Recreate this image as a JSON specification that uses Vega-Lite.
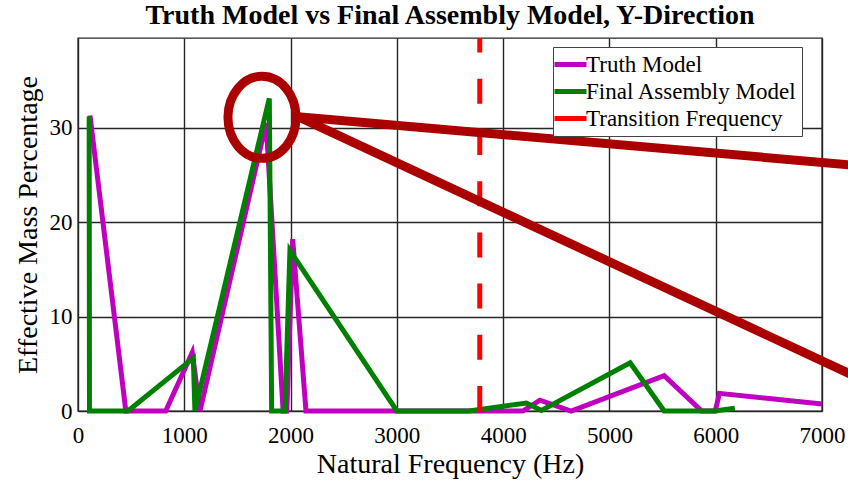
{
  "$schema": "https://vega.github.io/schema/vega-lite/v6.json",
  "autosize": {"type": "none"},
  "padding": {"left": 78, "top": 38, "right": 26, "bottom": 71},
  "width": 744,
  "height": 373,
  "background": "white",
  "title": {
    "text": "Truth Model vs Final Assembly Model, Y-Direction",
    "font": "Liberation Serif",
    "fontSize": 28,
    "fontWeight": "bold",
    "color": "black",
    "anchor": "middle",
    "offset": 6
  },
  "config": {
    "view": {"stroke": "#262626", "strokeWidth": 1.4},
    "axis": {
      "labelFont": "Liberation Serif",
      "titleFont": "Liberation Serif",
      "labelColor": "black",
      "titleColor": "black",
      "titleFontWeight": "normal",
      "gridColor": "#262626",
      "gridWidth": 1.4,
      "gridOpacity": 1,
      "domain": false,
      "ticks": false
    }
  },
  "datasets": {
    "series": [
      {"series": "Truth Model", "f": 113, "v": 31.3},
      {"series": "Truth Model", "f": 450, "v": 0},
      {"series": "Truth Model", "f": 825, "v": 0},
      {"series": "Truth Model", "f": 1075, "v": 6.2},
      {"series": "Truth Model", "f": 1148, "v": 0},
      {"series": "Truth Model", "f": 1770, "v": 30.5},
      {"series": "Truth Model", "f": 1930, "v": 0},
      {"series": "Truth Model", "f": 1965, "v": 0},
      {"series": "Truth Model", "f": 2020, "v": 18.2},
      {"series": "Truth Model", "f": 2145, "v": 0},
      {"series": "Truth Model", "f": 4185, "v": 0},
      {"series": "Truth Model", "f": 4346, "v": 1.15},
      {"series": "Truth Model", "f": 4640, "v": 0},
      {"series": "Truth Model", "f": 5515, "v": 3.75},
      {"series": "Truth Model", "f": 5868, "v": 0},
      {"series": "Truth Model", "f": 5995, "v": 0},
      {"series": "Truth Model", "f": 6035, "v": 1.87},
      {"series": "Truth Model", "f": 7000, "v": 0.74},
      {"series": "Final Assembly Model", "f": 105, "v": 31.2},
      {"series": "Final Assembly Model", "f": 108, "v": 0},
      {"series": "Final Assembly Model", "f": 470, "v": 0},
      {"series": "Final Assembly Model", "f": 1085, "v": 5.6},
      {"series": "Final Assembly Model", "f": 1100, "v": 0},
      {"series": "Final Assembly Model", "f": 1800, "v": 33.1},
      {"series": "Final Assembly Model", "f": 1822, "v": 0},
      {"series": "Final Assembly Model", "f": 1947, "v": 0},
      {"series": "Final Assembly Model", "f": 1994, "v": 17.0},
      {"series": "Final Assembly Model", "f": 3000, "v": 0},
      {"series": "Final Assembly Model", "f": 3680, "v": 0},
      {"series": "Final Assembly Model", "f": 4220, "v": 0.85},
      {"series": "Final Assembly Model", "f": 4360, "v": 0.05},
      {"series": "Final Assembly Model", "f": 5195, "v": 5.1},
      {"series": "Final Assembly Model", "f": 5515, "v": 0},
      {"series": "Final Assembly Model", "f": 5990, "v": 0},
      {"series": "Final Assembly Model", "f": 6180, "v": 0.3}
    ],
    "transition": [
      {"series": "Transition Frequency", "f": 3780, "v": 0, "v2": 39.5}
    ],
    "ellipse": [
      {"f": 1731, "v": 31.1}
    ],
    "pointers": [
      {"seg": "a", "f": 2070, "v": 31.17},
      {"seg": "a", "f": 7300, "v": 26.03},
      {"seg": "b", "f": 2070, "v": 31.17},
      {"seg": "b", "f": 7300, "v": 3.74}
    ]
  },
  "layer": [
    {
      "data": {"name": "series"},
      "transform": [{"filter": "datum.series === 'Truth Model'"}],
      "mark": {"type": "line", "strokeWidth": 5},
      "encoding": {
        "x": {
          "field": "f", "type": "quantitative",
          "scale": {"domain": [0, 7000], "nice": false, "zero": false},
          "axis": {
            "title": "Natural Frequency (Hz)",
            "values": [0, 1000, 2000, 3000, 4000, 5000, 6000, 7000],
            "format": "d",
            "labelFontSize": 23,
            "titleFontSize": 28,
            "labelPadding": 13,
            "titlePadding": 3,
            "labelFlush": false
          }
        },
        "y": {
          "field": "v", "type": "quantitative",
          "scale": {"domain": [0, 39.5], "nice": false},
          "axis": {
            "title": "Effective Mass Percentage",
            "values": [0, 10, 20, 30],
            "labelFontSize": 23,
            "titleFontSize": 28,
            "labelPadding": 6,
            "titlePadding": 7,
            "labelFlush": false
          }
        },
        "color": {
          "field": "series", "type": "nominal",
          "scale": {
            "domain": ["Truth Model", "Final Assembly Model", "Transition Frequency"],
            "range": ["#bf00bf", "#008000", "#ff0000"]
          },
          "legend": {
            "title": null,
            "orient": "none",
            "legendX": 475,
            "legendY": 9,
            "fillColor": "white",
            "strokeColor": "#444444",
            "padding": 5,
            "labelFont": "Liberation Serif",
            "labelFontSize": 23,
            "labelColor": "black",
            "labelLimit": 0,
            "labelOffset": 3,
            "symbolType": "M-1.6,0H1.6",
            "symbolSize": 400,
            "symbolStrokeWidth": 5,
            "rowPadding": 2
          }
        }
      }
    },
    {
      "data": {"name": "series"},
      "transform": [{"filter": "datum.series === 'Final Assembly Model'"}],
      "mark": {"type": "line", "strokeWidth": 5},
      "encoding": {
        "x": {"field": "f", "type": "quantitative"},
        "y": {"field": "v", "type": "quantitative"},
        "color": {"field": "series", "type": "nominal"}
      }
    },
    {
      "data": {"name": "transition"},
      "mark": {"type": "rule", "strokeWidth": 5, "strokeDash": [25, 26.2], "strokeCap": "butt"},
      "encoding": {
        "x": {"field": "f", "type": "quantitative"},
        "y": {"field": "v", "type": "quantitative"},
        "y2": {"field": "v2"},
        "color": {"field": "series", "type": "nominal"}
      }
    },
    {
      "data": {"name": "pointers"},
      "mark": {"type": "line", "color": "#aa0000", "strokeWidth": 9, "strokeCap": "butt"},
      "encoding": {
        "x": {"field": "f", "type": "quantitative"},
        "y": {"field": "v", "type": "quantitative"},
        "detail": {"field": "seg", "type": "nominal"}
      }
    },
    {
      "data": {"name": "ellipse"},
      "mark": {
        "type": "point",
        "shape": "M-0.83,0A0.83,1,0,1,0,0.83,0A0.83,1,0,1,0,-0.83,0Z",
        "filled": false,
        "stroke": "#aa0000",
        "strokeWidth": 9,
        "opacity": 1,
        "size": 6724
      },
      "encoding": {
        "x": {"field": "f", "type": "quantitative"},
        "y": {"field": "v", "type": "quantitative"}
      }
    }
  ]
}
